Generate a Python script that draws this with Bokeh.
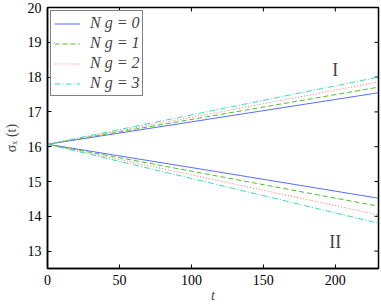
from bokeh.plotting import figure
from bokeh.models import Range1d, Legend, LegendItem, FixedTicker, Label
from bokeh.embed import file_html
from bokeh.resources import INLINE

# data
t = [0, 115, 230]
upper_ng0 = [16.07, 16.81, 17.55]
upper_ng1 = [16.07, 16.89, 17.71]
upper_ng2 = [16.07, 16.96, 17.86]
upper_ng3 = [16.07, 17.04, 18.00]
lower_ng0 = [16.07, 15.30, 14.52]
lower_ng1 = [16.07, 15.18, 14.29]
lower_ng2 = [16.07, 15.06, 14.04]
lower_ng3 = [16.07, 14.94, 13.80]
labels = ["N g = 0", "N g = 1", "N g = 2", "N g = 3"]
x_ticks = [0, 50, 100, 150, 200]
y_ticks = [13, 14, 15, 16, 17, 18, 19, 20]
x_range = (0, 230)
y_range = (12.5, 20)

colors = ["#5a6cff", "#4cbf2a", "#ff7070", "#40d8b8"]
dashes = ["solid", "5 3", "1 2", "6 2 1 2"]

FONT = "Liberation Serif"

p = figure(frame_width=331, frame_height=261, output_backend="svg", toolbar_location=None,
           x_range=Range1d(*x_range), y_range=Range1d(*y_range),
           min_border_left=0, min_border_right=3, min_border_top=7, min_border_bottom=0)
p.grid.visible = False
p.outline_line_color = "black"
p.outline_line_width = 1.5
p.background_fill_color = "white"

for ax in (p.xaxis[0], p.yaxis[0]):
    ax.major_tick_in = 4
    ax.major_tick_out = 0
    ax.minor_tick_line_color = None
    ax.major_label_text_font = FONT
    ax.major_label_text_font_size = "14px"
    ax.major_label_text_color = "black"
    ax.axis_line_width = 1.5
    ax.axis_label_text_font = FONT
    ax.axis_label_text_font_size = "14px"
    ax.axis_label_text_font_style = "normal"
p.xaxis[0].ticker = FixedTicker(ticks=x_ticks)
p.yaxis[0].ticker = FixedTicker(ticks=y_ticks)
p.xaxis[0].axis_label = "t"
p.xaxis[0].axis_label_text_font_style = "italic"
p.xaxis[0].major_label_standoff = 6
p.xaxis[0].axis_label_standoff = 0
p.yaxis[0].axis_label = "σₓ (t)"
p.yaxis[0].major_label_standoff = 6
p.yaxis[0].axis_label_standoff = 6

# inward ticks on the top and right edges (clipped to the frame, half visible)
p.scatter(x_ticks, [y_range[1]] * len(x_ticks), marker="dash", angle=1.5708,
          size=8, line_color="black", line_width=1)
p.scatter([x_range[1]] * len(y_ticks), y_ticks, marker="dash",
          size=8, line_color="black", line_width=1)

uppers = [upper_ng0, upper_ng1, upper_ng2, upper_ng3]
lowers = [lower_ng0, lower_ng1, lower_ng2, lower_ng3]
items = []
for i in range(4):
    r1 = p.line(t, uppers[i], line_color=colors[i], line_dash=dashes[i], line_width=1)
    p.line(t, lowers[i], line_color=colors[i], line_dash=dashes[i], line_width=1)
    items.append(LegendItem(label=labels[i], renderers=[r1]))

legend = Legend(items=items, location="top_left", border_line_color="black",
                border_line_width=1, background_fill_alpha=1,
                label_text_font=FONT, label_text_font_size="16px",
                label_text_font_style="italic",
                glyph_width=26, glyph_height=15, label_height=15,
                spacing=2, padding=3, margin=3, label_standoff=10)
p.add_layout(legend)

p.add_layout(Label(x=200, y=18.2, text="I", text_font=FONT, text_font_size="18px",
                   text_align="center", text_baseline="middle"))
p.add_layout(Label(x=200, y=13.25, text="II", text_font=FONT, text_font_size="18px",
                   text_align="center", text_baseline="middle"))

open("out.html", "w").write(file_html(p, INLINE))
